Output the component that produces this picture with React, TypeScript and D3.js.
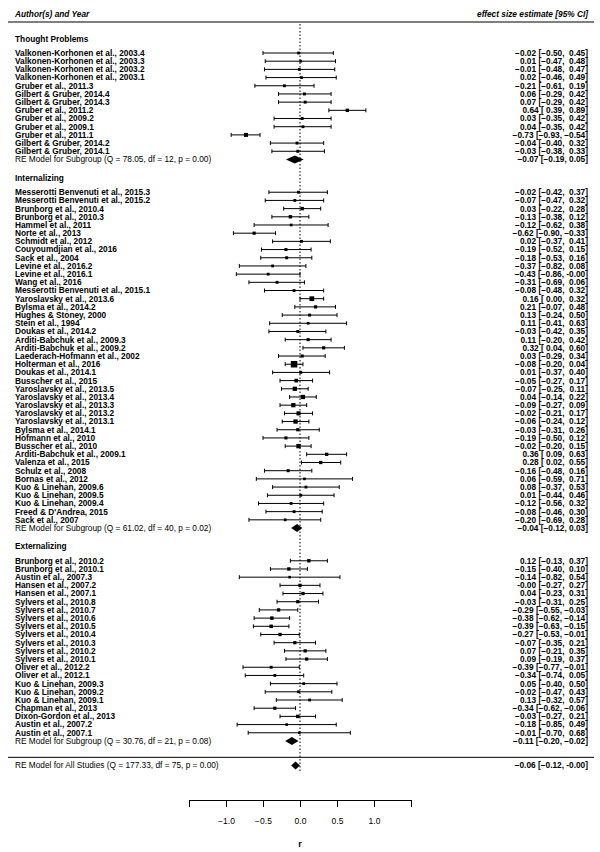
import * as d3 from "d3";
import { useRef, useEffect } from "react";

// [label, estimate, ci lower, ci upper]
type Study = [string, number, number, number];

const thoughtStudies: Study[] = [
  ["Valkonen-Korhonen et al., 2003.4", -0.02, -0.5, 0.45],
  ["Valkonen-Korhonen et al., 2003.3", 0.01, -0.47, 0.48],
  ["Valkonen-Korhonen et al., 2003.2", -0.01, -0.48, 0.47],
  ["Valkonen-Korhonen et al., 2003.1", 0.02, -0.46, 0.49],
  ["Gruber et al., 2011.3", -0.21, -0.61, 0.19],
  ["Gilbert & Gruber, 2014.4", 0.06, -0.29, 0.42],
  ["Gilbert & Gruber, 2014.3", 0.07, -0.29, 0.42],
  ["Gruber et al., 2011.2", 0.64, 0.39, 0.89],
  ["Gruber et al., 2009.2", 0.03, -0.35, 0.42],
  ["Gruber et al., 2009.1", 0.04, -0.35, 0.42],
  ["Gruber et al., 2011.1", -0.73, -0.93, -0.54],
  ["Gilbert & Gruber, 2014.2", -0.04, -0.4, 0.32],
  ["Gilbert & Gruber, 2014.1", -0.03, -0.38, 0.33],
];

const internalizingStudies: Study[] = [
  ["Messerotti Benvenuti et al., 2015.3", -0.02, -0.42, 0.37],
  ["Messerotti Benvenuti et al., 2015.2", -0.07, -0.47, 0.32],
  ["Brunborg et al., 2010.4", 0.03, -0.22, 0.28],
  ["Brunborg et al., 2010.3", -0.13, -0.38, 0.12],
  ["Hammel et al., 2011", -0.12, -0.62, 0.38],
  ["Norte et al., 2013", -0.62, -0.9, -0.33],
  ["Schmidt et al., 2012", 0.02, -0.37, 0.41],
  ["Couyoumdjian et al., 2016", -0.19, -0.52, 0.15],
  ["Sack et al., 2004", -0.18, -0.53, 0.16],
  ["Levine et al., 2016.2", -0.37, -0.82, 0.08],
  ["Levine et al., 2016.1", -0.43, -0.86, -0.0],
  ["Wang et al., 2016", -0.31, -0.69, 0.06],
  ["Messerotti Benvenuti et al., 2015.1", -0.08, -0.48, 0.32],
  ["Yaroslavsky et al., 2013.6", 0.16, 0.0, 0.32],
  ["Bylsma et al., 2014.2", 0.21, -0.07, 0.48],
  ["Hughes & Stoney, 2000", 0.13, -0.24, 0.5],
  ["Stein et al., 1994", 0.11, -0.41, 0.63],
  ["Doukas et al., 2014.2", -0.03, -0.42, 0.35],
  ["Arditi-Babchuk et al., 2009.3", 0.11, -0.2, 0.42],
  ["Arditi-Babchuk et al., 2009.2", 0.32, 0.04, 0.6],
  ["Laederach-Hofmann et al., 2002", 0.03, -0.29, 0.34],
  ["Holterman et al., 2016", -0.08, -0.2, 0.04],
  ["Doukas et al., 2014.1", 0.01, -0.37, 0.4],
  ["Busscher et al., 2015", -0.05, -0.27, 0.17],
  ["Yaroslavsky et al., 2013.5", -0.07, -0.25, 0.11],
  ["Yaroslavsky et al., 2013.4", 0.04, -0.14, 0.22],
  ["Yaroslavsky et al., 2013.3", -0.09, -0.27, 0.09],
  ["Yaroslavsky et al., 2013.2", -0.02, -0.21, 0.17],
  ["Yaroslavsky et al., 2013.1", -0.06, -0.24, 0.12],
  ["Bylsma et al., 2014.1", -0.03, -0.31, 0.26],
  ["Hofmann et al., 2010", -0.19, -0.5, 0.12],
  ["Busscher et al., 2010", -0.02, -0.2, 0.15],
  ["Arditi-Babchuk et al., 2009.1", 0.36, 0.09, 0.63],
  ["Valenza et al., 2015", 0.28, 0.02, 0.55],
  ["Schulz et al., 2008", -0.16, -0.48, 0.16],
  ["Bornas et al., 2012", 0.06, -0.59, 0.71],
  ["Kuo & Linehan, 2009.6", 0.08, -0.37, 0.53],
  ["Kuo & Linehan, 2009.5", 0.01, -0.44, 0.46],
  ["Kuo & Linehan, 2009.4", -0.12, -0.56, 0.32],
  ["Freed & D'Andrea, 2015", -0.08, -0.46, 0.3],
  ["Sack et al., 2007", -0.2, -0.69, 0.28],
];

const externalizingStudies: Study[] = [
  ["Brunborg et al., 2010.2", 0.12, -0.13, 0.37],
  ["Brunborg et al., 2010.1", -0.15, -0.4, 0.1],
  ["Austin et al., 2007.3", -0.14, -0.82, 0.54],
  ["Hansen et al., 2007.2", -0.0, -0.27, 0.27],
  ["Hansen et al., 2007.1", 0.04, -0.23, 0.31],
  ["Sylvers et al., 2010.8", -0.03, -0.31, 0.25],
  ["Sylvers et al., 2010.7", -0.29, -0.55, -0.03],
  ["Sylvers et al., 2010.6", -0.38, -0.62, -0.14],
  ["Sylvers et al., 2010.5", -0.39, -0.63, -0.15],
  ["Sylvers et al., 2010.4", -0.27, -0.53, -0.01],
  ["Sylvers et al., 2010.3", -0.07, -0.35, 0.21],
  ["Sylvers et al., 2010.2", 0.07, -0.21, 0.35],
  ["Sylvers et al., 2010.1", 0.09, -0.19, 0.37],
  ["Oliver et al., 2012.2", -0.39, -0.77, -0.01],
  ["Oliver et al., 2012.1", -0.34, -0.74, 0.05],
  ["Kuo & Linehan, 2009.3", 0.05, -0.4, 0.5],
  ["Kuo & Linehan, 2009.2", -0.02, -0.47, 0.43],
  ["Kuo & Linehan, 2009.1", 0.13, -0.32, 0.57],
  ["Chapman et al., 2013", -0.34, -0.62, -0.06],
  ["Dixon-Gordon et al., 2013", -0.03, -0.27, 0.21],
  ["Austin et al., 2007.2", -0.18, -0.85, 0.49],
  ["Austin et al., 2007.1", -0.01, -0.7, 0.68],
];

const subgroupNames = ["Thought Problems", "Internalizing", "Externalizing"];
// [Q, df, p, estimate, lower, upper]
const subgroupModels: [number, number, number, number, number, number][] = [
  [78.05, 12, 0.0, -0.07, -0.19, 0.05],
  [61.02, 40, 0.02, -0.04, -0.12, 0.03],
  [30.76, 21, 0.08, -0.11, -0.2, -0.02],
];
const overallModel = [177.33, 75, 0.0, -0.06, -0.12, -0.0];

const axisTicks = [-1.5, -1, -0.5, 0, 0.5, 1, 1.5];
const labelledTicks = [-1, -0.5, 0, 0.5, 1];

const W = 600;
const H = 852;
const FONT = "'Liberation Sans', Arial, Helvetica, sans-serif";

const f2 = d3.format(".2f");
const isNeg = (v: number) => v < 0 || Object.is(v, -0);
const fmt = (v: number) => (Object.is(v, -0) ? "-0.00" : f2(v));
// pad positives with a space so the bracket columns line up
const pad = (v: number) => (isNeg(v) ? fmt(v) : " " + fmt(v));

export default function App() {
  const gx = useRef<SVGGElement>(null);

  const x = d3.scaleLinear().domain([-1, 1]).range([226, 374]);
  // row index -> pixel
  const y = d3.scaleLinear().domain([0, 87]).range([53, 53 + 8.19 * 87]);

  const groups = [thoughtStudies, internalizingStudies, externalizingStudies];
  const starts = [0, 17, 62];

  const all = groups.flat();
  const wts = all.map((s) => 1 / ((s[3] - s[2]) / 3.92) ** 2);
  const size = d3.scaleLinear().domain(d3.extent(wts) as [number, number]).range([2.6, 6.5]);

  const axisY = 800;

  useEffect(() => {
    const axis = d3
      .axisBottom(x.copy().domain([-1.5, 1.5]).range([x(-1.5), x(1.5)]))
      .tickValues(axisTicks)
      .tickSizeOuter(0)
      .tickSizeInner(7)
      .tickFormat((d) => (labelledTicks.includes(+d) ? d3.format(".1f")(+d) : ""));
    const g = d3.select(gx.current!);
    g.call(axis as any);
    g.attr("font-family", FONT).attr("font-size", 8.5);
    g.selectAll(".tick text").attr("dy", "1.6em");
  }, []);

  const pre = { whiteSpace: "pre" as const };

  const rows: JSX.Element[] = [];
  groups.forEach((studies, gi) => {
    const k0 = starts[gi];
    rows.push(
      <text key={`h${gi}`} x={15} y={y(k0 - 1.75)} dy="0.35em" fontWeight="bold">
        {subgroupNames[gi]}
      </text>
    );
    studies.forEach((s, i) => {
      const yy = y(k0 + i);
      const sz = size(1 / ((s[3] - s[2]) / 3.92) ** 2);
      rows.push(
        <g key={`s${gi}-${i}`}>
          <text x={15} y={yy} dy="0.35em" fontWeight="bold">{s[0]}</text>
          <line x1={x(s[2])} x2={x(s[3])} y1={yy} y2={yy} stroke="#000" />
          <line x1={x(s[2])} x2={x(s[2])} y1={yy - 2} y2={yy + 2} stroke="#000" />
          <line x1={x(s[3])} x2={x(s[3])} y1={yy - 2} y2={yy + 2} stroke="#000" />
          <rect x={x(s[1]) - sz / 2} y={yy - sz / 2} width={sz} height={sz} fill="#000" />
          <text x={588} y={yy} dy="0.35em" textAnchor="end" fontWeight="bold" style={pre}>
            {`${fmt(s[1])} [${pad(s[2])}, ${pad(s[3])}]`}
          </text>
        </g>
      );
    });
    const m = subgroupModels[gi];
    const ym = y(k0 + studies.length);
    rows.push(
      <g key={`m${gi}`}>
        <text x={15} y={ym} dy="0.35em">
          {`RE Model for Subgroup (Q = ${f2(m[0])}, df = ${m[1]}, p = ${f2(m[2])})`}
        </text>
        <polygon
          points={`${x(m[4])},${ym} ${x(m[3])},${ym - 4} ${x(m[5])},${ym} ${x(m[3])},${ym + 4}`}
          fill="#000"
        />
        <text x={588} y={ym} dy="0.35em" textAnchor="end" fontWeight="bold">
          {`${fmt(m[3])} [${fmt(m[4])}, ${fmt(m[5])}]`}
        </text>
      </g>
    );
  });

  const yo = y(87);
  const o = overallModel;

  return (
    <svg
      width={W}
      height={H}
      style={{ position: "absolute", left: 0, top: 0, background: "#fff" }}
      fontFamily={FONT}
      fontSize={8.3}
    >
      <rect width={W} height={H} fill="#fff" />
      <text x={15} y={14} dy="0.35em" fontWeight="bold" fontStyle="italic">Author(s) and Year</text>
      <text x={588} y={14} dy="0.35em" textAnchor="end" fontWeight="bold" fontStyle="italic">
        effect size estimate [95% CI]
      </text>
      <line x1={8} x2={594} y1={22} y2={22} stroke="#000" />
      <line x1={x(0)} x2={x(0)} y1={24} y2={yo + 6} stroke="#000" strokeDasharray="1.5,2" />
      {rows}
      <line x1={8} x2={594} y1={y(86)} y2={y(86)} stroke="#000" />
      <text x={15} y={yo} dy="0.35em">
        {`RE Model for All Studies (Q = ${f2(o[0])}, df = ${o[1]}, p = ${f2(o[2])})`}
      </text>
      <polygon
        points={`${x(o[4])},${yo} ${x(o[3])},${yo - 4} ${x(o[5])},${yo} ${x(o[3])},${yo + 4}`}
        fill="#000"
      />
      <text x={588} y={yo} dy="0.35em" textAnchor="end" fontWeight="bold">
        {`${fmt(o[3])} [${fmt(o[4])}, ${fmt(o[5])}]`}
      </text>
      <g ref={gx} transform={`translate(0,${axisY})`} />
      <text x={x(0)} y={847} textAnchor="middle" fontSize={9} fontWeight="bold">r</text>
    </svg>
  );
}
